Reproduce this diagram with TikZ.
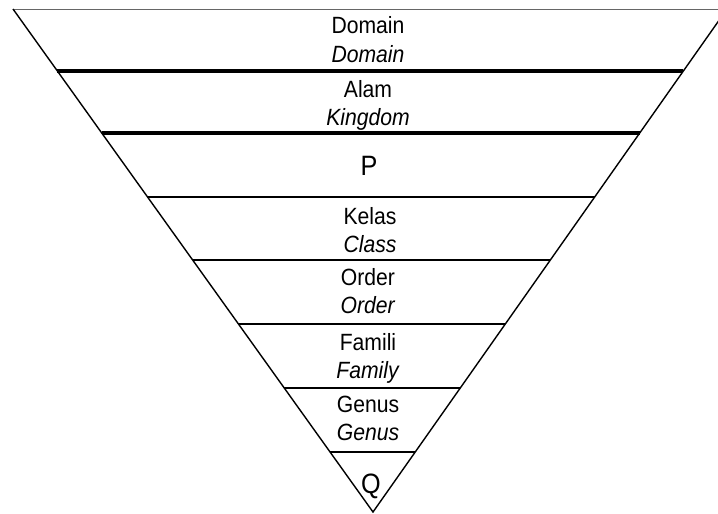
\documentclass[tikz,border=0pt]{standalone}
\usepackage{fontspec}
\setmainfont{Liberation Sans}
\usepackage{tikz}
% one horizontal cut of the funnel at height #1, line width #2
\newcommand{\band}[2]{\draw[line width=#2] ({13+(#1-9)*0.7157},#1) -- ({727-(#1-9)*0.7038},#1)}

\begin{document}
\begin{tikzpicture}[x=1pt,y=-1pt,
    lbl/.style={font=\fontsize{23.5}{28}\selectfont,anchor=base,xscale=0.9,transform shape},
    big/.style={font=\fontsize{28}{32}\selectfont,anchor=base,xscale=0.9,transform shape}]
    \useasboundingbox (0,0) rectangle (718,514);
    \clip (0,0) rectangle (718,514);

    \coordinate (tl) at (13,9);
    \coordinate (tr) at (727,9);
    \coordinate (apex) at (373,512);

    % outline
    \draw[line width=1pt,black!60] (tl) -- (tr);
    \draw[line width=1.4pt,line join=miter] (tl) -- (apex) -- (tr);

    \band{71}{4.5pt};
    \band{133}{4.5pt};
    \band{197}{1.5pt};
    \band{260}{1.5pt};
    \band{324}{1.5pt};
    \band{388}{1.5pt};
    \band{452}{1.5pt};

    % ranks
    \node[lbl] (domain) at (368,34) {Domain};
    \node[lbl] (domainEn) at (368,62) {\textit{Domain}};
    \node[lbl] (alam) at (368,97) {Alam};
    \node[lbl] (alamEn) at (368,125) {\textit{Kingdom}};
    \node[big] (p) at (369,175) {P};
    \node[lbl] (kelas) at (370,224) {Kelas};
    \node[lbl] (kelasEn) at (370,252) {\textit{Class}};
    \node[lbl] (order) at (368,285) {Order};
    \node[lbl] (orderEn) at (368,313) {\textit{Order}};
    \node[lbl] (famili) at (368,350) {Famili};
    \node[lbl] (familiEn) at (368,378) {\textit{Family}};
    \node[lbl] (genus) at (368,412) {Genus};
    \node[lbl] (genusEn) at (368,440) {\textit{Genus}};
    \node[big] (q) at (371,493) {Q};
  \end{tikzpicture}
\end{document}
